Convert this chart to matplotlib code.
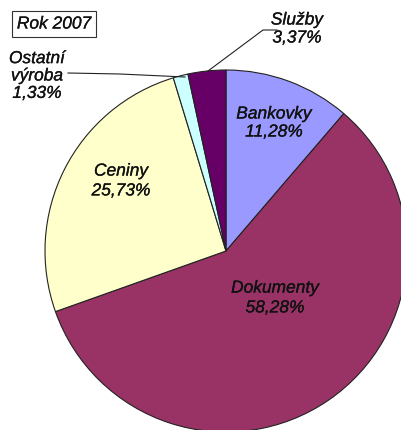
import matplotlib.pyplot as plt
import matplotlib.patheffects as pe

# Data
categories = ["Bankovky", "Dokumenty", "Ceniny", "Ostatní\nvýroba", "Služby"]
shares = [11.28, 58.28, 25.73, 1.33, 3.37]
colors = ["#9999FF", "#993366", "#FFFFCC", "#CCFFFF", "#660066"]

plt.rcParams["font.family"] = ["Liberation Sans", "DejaVu Sans"]

W, H = 402, 430
fig = plt.figure(figsize=(W / 100, H / 100), dpi=100)
ax = fig.add_axes([0, 0, 1, 1])


def Y(y):
    # pixel row (from top) -> data y (up)
    return H - y


cx, cy, r = 226, 251, 181
ax.pie(
    shares, colors=colors, startangle=90, counterclock=False,
    center=(cx, Y(cy)), radius=r, frame=True,
    wedgeprops=dict(edgecolor="#222222", linewidth=0.8),
)
ax.set_xlim(0, W)
ax.set_ylim(0, H)
ax.set_aspect("equal")
ax.axis("off")


def pct(v):
    return f"{v:.2f}".replace(".", ",") + "%"


# slightly heavier strokes, like the screenshot's text
heavy = [pe.withStroke(linewidth=0.2, foreground="#111111")]
txt = dict(fontsize=12.5, style="italic", ha="center", va="center",
           color="#111111", path_effects=heavy)
# Inner labels
ax.text(274, Y(123), f"{categories[0]}\n{pct(shares[0])}", linespacing=1.25, **txt)
ax.text(275, Y(298), f"{categories[1]}\n{pct(shares[1])}", linespacing=1.4, **txt)
ax.text(121, Y(181), f"{categories[2]}\n{pct(shares[2])}", linespacing=1.4, **txt)
# Outer labels with leader lines
ax.text(37, Y(76), f"{categories[3]}\n{pct(shares[3])}", linespacing=1.2, **txt)
ax.plot([68, 120, 185], [Y(73), Y(74), Y(77)], color="#222222", lw=0.8)
ax.text(297, Y(29), f"{categories[4]}\n{pct(shares[4])}", linespacing=1.25, **txt)
ax.plot([277, 263, 208], [Y(30), Y(30), Y(71)], color="#222222", lw=0.8)

# Title box
ax.text(54, Y(24), "Rok 2007", fontsize=12.5, style="italic", ha="center", va="center",
        color="#111111", path_effects=heavy,
        bbox=dict(boxstyle="square,pad=0.3", fc="white", ec="#333333", lw=0.8))

fig.savefig("out.png", dpi=100)
